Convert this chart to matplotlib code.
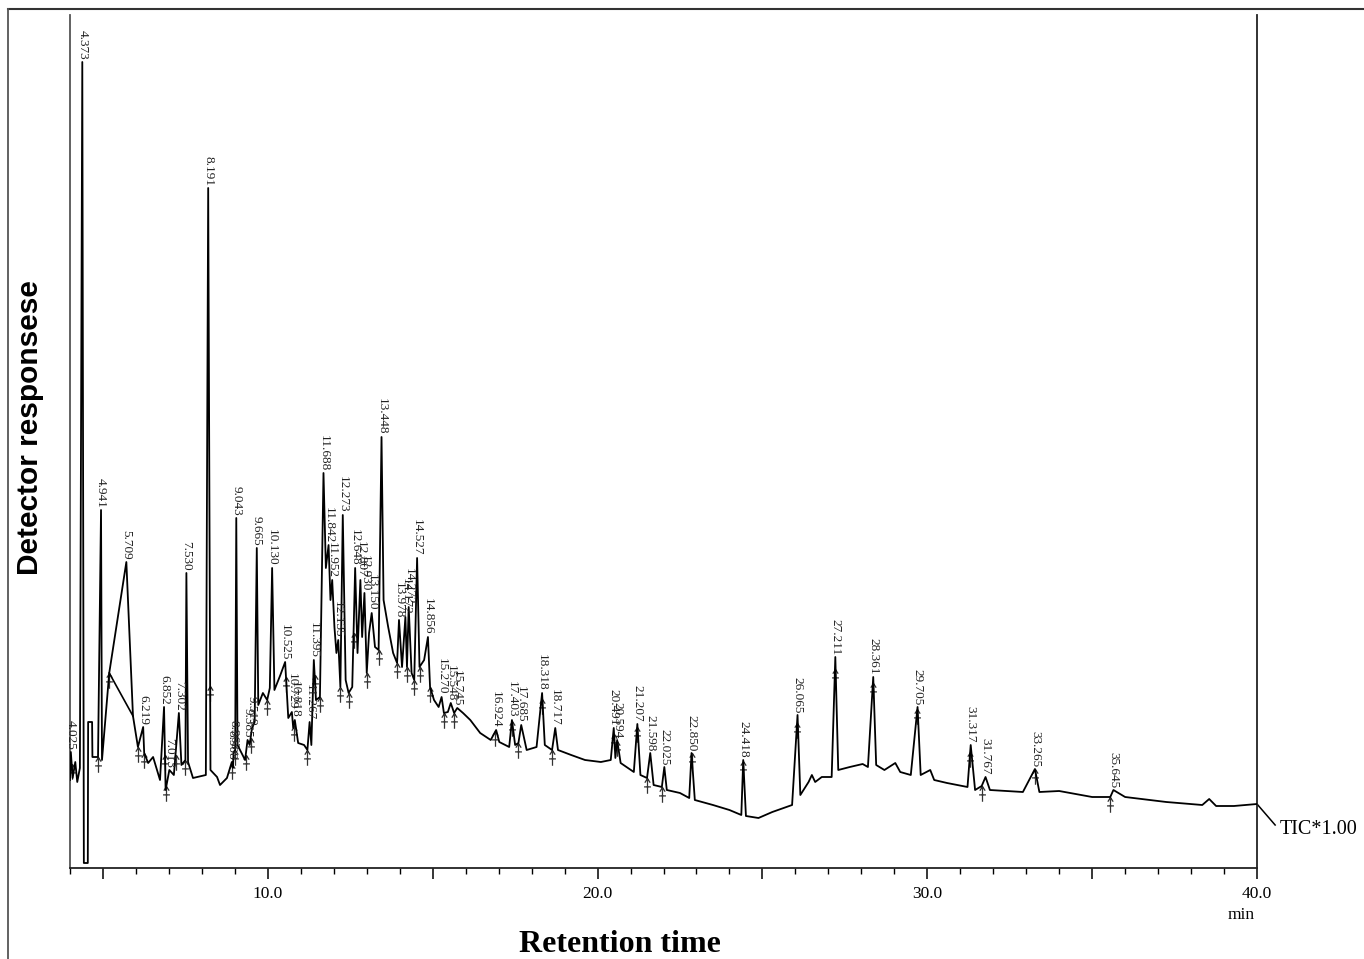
import numpy as np
import matplotlib.pyplot as plt
from matplotlib.path import Path
from matplotlib.lines import Line2D
from matplotlib.ticker import MultipleLocator, FuncFormatter
import matplotlib.transforms as mtransforms

# labelled peaks: retention time (min) and apex response (a.u.)
peak_rt = [4.025, 4.373, 4.941, 5.709, 6.219, 6.852, 7.013, 7.302, 7.530, 8.191,
           8.908, 8.963, 9.043, 9.385, 9.519, 9.665, 10.130, 10.525, 10.729, 10.818,
           11.267, 11.395, 11.688, 11.842, 11.952, 12.135, 12.273, 12.648, 12.807, 12.930,
           13.150, 13.448, 13.978, 14.172, 14.272, 14.527, 14.856, 15.270, 15.548, 15.745,
           16.924, 17.403, 17.685, 18.318, 18.717, 20.491, 20.594, 21.207, 21.598, 22.025,
           22.850, 24.418, 26.065, 27.211, 28.361, 29.705, 31.317, 31.767, 33.265, 35.645]
peak_resp = [116, 806, 358, 306, 141, 161, 98, 155, 295, 680,
             106, 116, 350, 128, 140, 320, 300, 206, 156, 148,
             146, 208, 395, 323, 288, 228, 353, 300, 288, 275,
             255, 431, 248, 251, 261, 310, 231, 171, 165, 160,
             138, 148, 143, 175, 140, 140, 128, 144, 115, 101,
             115, 108, 153, 211, 191, 161, 123, 91, 99, 78]

# valleys / baseline points of the trace between the peaks
valley_rt = [4.00, 4.08, 4.16, 4.22, 4.30, 4.42, 4.54, 4.55, 4.67, 4.68, 4.85,
             4.97, 5.19, 5.91, 6.06, 6.25, 6.37, 6.52, 6.73, 6.90, 7.15, 7.38, 7.50,
             7.58, 7.73, 8.12, 8.26, 8.46, 8.55, 8.76, 8.94, 9.01, 9.08, 9.31, 9.45,
             9.60, 9.71, 9.85, 9.98, 10.06, 10.20, 10.38, 10.62, 10.77, 10.92, 11.10,
             11.20, 11.32, 11.46, 11.58, 11.76, 11.90, 12.02, 12.08, 12.20, 12.36,
             12.45, 12.56, 12.72, 12.86, 13.00, 13.07, 13.25, 13.36, 13.51, 13.65,
             13.80, 13.92, 14.07, 14.22, 14.36, 14.44, 14.60, 14.74, 14.92, 15.04,
             15.18, 15.34, 15.46, 15.65, 15.92, 16.14, 16.44, 16.76, 17.02, 17.32,
             17.50, 17.60, 17.85, 18.15, 18.40, 18.62, 18.80, 19.20, 19.62, 20.10,
             20.40, 20.54, 20.70, 21.10, 21.30, 21.50, 21.70, 21.95, 22.10, 22.50,
             22.78, 22.95, 23.50, 24.00, 24.36, 24.50, 24.88, 25.30, 25.90, 26.15,
             26.40, 26.50, 26.60, 26.80, 27.10, 27.30, 27.65, 28.04, 28.20, 28.45,
             28.70, 29.03, 29.18, 29.50, 29.80, 30.09, 30.21, 30.60, 31.22, 31.45,
             31.65, 31.90, 32.90, 33.40, 34.00, 35.00, 35.55, 36.00, 37.25, 38.34,
             38.55, 38.76, 39.30, 40.00]
valley_resp = [88, 90, 106, 86, 100, 5, 5, 146, 146, 111, 111,
               108, 195, 152, 121, 115, 105, 111, 88, 78, 93, 103, 108,
               106, 90, 93, 98, 91, 83, 90, 100, 118, 123, 108, 123,
               146, 163, 175, 168, 180, 178, 193, 150, 140, 125, 123,
               118, 123, 168, 171, 300, 268, 241, 215, 181, 188,
               175, 181, 215, 231, 195, 235, 221, 218, 268, 241,
               215, 205, 201, 201, 195, 188, 201, 208, 181, 168,
               161, 155, 156, 155, 155, 148, 135, 128, 126, 121,
               123, 125, 118, 121, 123, 118, 118, 113, 108, 106,
               108, 110, 105, 96, 93, 90, 83, 81, 78, 75,
               70, 68, 63, 58, 53, 52, 50, 56, 63, 73,
               86, 93, 86, 91, 91, 98, 101, 104, 101, 103,
               98, 105, 96, 93, 93, 98, 88, 85, 81, 78,
               82, 78, 76, 76, 77, 71, 71, 71, 66, 63,
               69, 62, 62, 64]

# drop line under the 5.709 peak
drop_rt = [5.19, 5.91]
drop_resp = [195, 152]

# integration start/end marks
mark_rt = [4.05, 4.85, 5.19, 6.06, 6.25, 6.88, 6.92, 7.20, 7.50, 8.25, 8.92, 9.01,
           9.33, 9.48, 9.98, 10.55, 10.78, 11.20, 11.42, 11.58, 12.20, 12.45, 12.60,
           13.00, 13.36, 13.92, 14.22, 14.44, 14.60, 14.92, 15.34, 15.65, 16.90,
           17.40, 17.60, 18.30, 18.62, 20.50, 20.60, 21.20, 21.50, 21.95, 22.85,
           24.42, 26.05, 27.20, 28.35, 29.70, 31.30, 31.65, 33.26, 35.55]

fig = plt.figure(figsize=(13.64, 9.59), dpi=100)
ax = fig.add_axes([70 / 1364, 91 / 959, 1187 / 1364, 853 / 959])

trace_rt = np.array(peak_rt + valley_rt)
trace_resp = np.array(peak_resp + valley_resp)
order = np.argsort(trace_rt, kind='stable')
trace_rt = trace_rt[order]
trace_resp = trace_resp[order]

ax.plot(trace_rt, trace_resp, color='black', linewidth=1.3, zorder=3)
ax.plot(drop_rt, drop_resp, color='black', linewidth=1.2, zorder=3)

# little up arrows at the integration marks
arrow = Path([(0, -2), (0, 0), (-0.35, -0.55), (0, 0), (0.35, -0.55),
              (-0.45, -1.1), (0.45, -1.1)],
             [Path.MOVETO, Path.LINETO, Path.MOVETO, Path.LINETO, Path.LINETO,
              Path.MOVETO, Path.LINETO])
mark_resp = np.interp(mark_rt, trace_rt, trace_resp)
ax.plot(mark_rt, mark_resp, ls='none', marker=arrow, markersize=22,
        markeredgewidth=0.9, color='#333333', fillstyle='none', zorder=2)

for rt, resp in zip(peak_rt, peak_resp):
    ax.annotate(f"{rt:.3f}", (rt, resp), xytext=(0, 1.5), textcoords='offset points',
                rotation=-90, ha='center', va='bottom', fontsize=9.5,
                family='Liberation Serif', color='#222222')

ax.set_xlim(4.0, 40.0)
ax.set_ylim(0, 853)
ax.spines['top'].set_visible(False)
for s in ['left', 'right', 'bottom']:
    ax.spines[s].set_linewidth(1.3)
ax.spines['left'].set_color('#555555')
ax.spines['right'].set_color('#222222')
ax.spines['bottom'].set_color('#222222')
ax.set_yticks([])
ax.xaxis.set_major_locator(MultipleLocator(5))
ax.xaxis.set_minor_locator(MultipleLocator(1))
ax.xaxis.set_major_formatter(FuncFormatter(lambda v, p: f"{v:.1f}" if v % 10 == 0 else ""))
ax.tick_params(axis='x', which='major', length=8, width=1.1, pad=5, labelsize=12.5)
ax.tick_params(axis='x', which='minor', length=4, width=1.0)
for lab in ax.get_xticklabels():
    lab.set_family('Liberation Serif')

# TIC leader line and label
ax.plot([40.0, 40.55], [64, 43], color='black', linewidth=1.1, clip_on=False)
fig.text(1280 / 1364, 1 - 830 / 959, "TIC*1.00", fontsize=14.5, family='Liberation Serif',
         ha='left', va='center')
fig.text(1241 / 1364, 1 - 915 / 959, "min", fontsize=12.5, family='Liberation Serif',
         ha='center', va='center')

fig.text(620 / 1364, 1 - 944 / 959, "Retention time", fontsize=23, weight='bold',
         family='Liberation Serif', ha='center', va='center')
fig.text(30 / 1364, 1 - 428 / 959, "Detector responsese", fontsize=21.5, weight='bold',
         family='Liberation Sans', rotation=90, ha='center', va='center')

# outer frame of the figure
fig.add_artist(Line2D([8 / 1364, 1.0], [1 - 9 / 959, 1 - 9 / 959], color='#333333', linewidth=1.5))
fig.add_artist(Line2D([8 / 1364, 8 / 1364], [0, 1 - 9 / 959], color='#555555', linewidth=1.3))

fig.savefig('out.png', dpi=100)
